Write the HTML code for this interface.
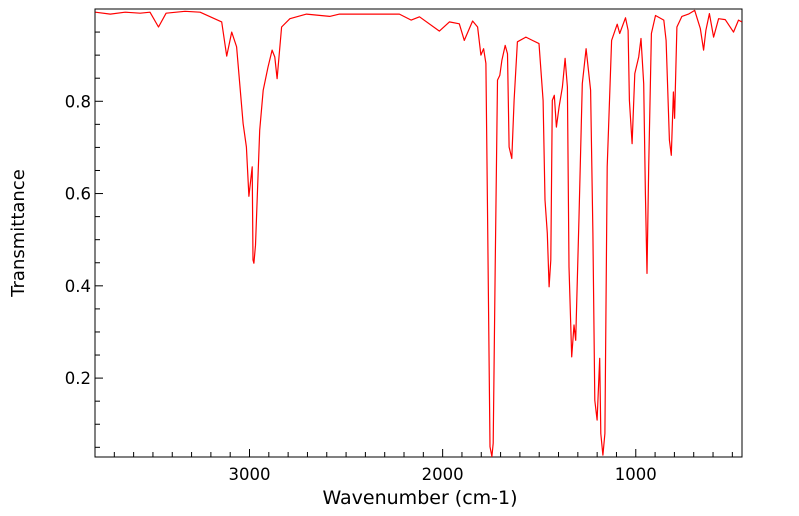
<!DOCTYPE html>
<html><head><meta charset="utf-8"><style>
body{margin:0;background:#fff;width:799px;height:516px;overflow:hidden}
svg{display:block;font-family:"DejaVu Sans","Liberation Sans",sans-serif}
</style></head><body>
<svg id="chart" width="799" height="516" xmlns="http://www.w3.org/2000/svg"></svg>
<script>
const wavenumbers=[3798,3721,3644,3566,3515,3471,3432,3334,3256,3144,3118,3092,3067,3033,3016,3003,2986,2982,2977,2969,2947,2929,2904,2883,2869,2857,2834,2791,2705,2585,2534,2224,2163,2120,2017,1965,1914,1888,1845,1819,1802,1788,1776,1768,1755,1745,1738,1728,1716,1704,1693,1676,1664,1656,1642,1630,1613,1569,1535,1501,1480,1470,1458,1449,1440,1432,1422,1411,1397,1380,1366,1354,1346,1332,1320,1311,1294,1277,1257,1234,1222,1212,1200,1187,1181,1170,1160,1148,1125,1096,1083,1053,1040,1033,1019,1005,985,973,959,950,942,933,919,898,855,843,826,816,805,799,787,761,727,695,666,649,637,619,597,571,537,494,468,451];
const transmittance=[0.993,0.989,0.993,0.991,0.993,0.961,0.991,0.995,0.993,0.972,0.898,0.950,0.918,0.752,0.701,0.594,0.658,0.456,0.449,0.488,0.737,0.824,0.874,0.911,0.896,0.849,0.961,0.979,0.989,0.984,0.989,0.989,0.976,0.983,0.952,0.972,0.968,0.932,0.974,0.961,0.900,0.914,0.882,0.586,0.051,0.030,0.059,0.441,0.846,0.856,0.889,0.921,0.903,0.701,0.676,0.802,0.929,0.939,0.932,0.925,0.802,0.586,0.514,0.398,0.456,0.802,0.813,0.744,0.788,0.831,0.893,0.831,0.441,0.246,0.315,0.282,0.549,0.838,0.914,0.824,0.514,0.152,0.109,0.243,0.080,0.033,0.080,0.658,0.932,0.967,0.947,0.981,0.954,0.802,0.708,0.860,0.896,0.936,0.838,0.600,0.427,0.658,0.947,0.986,0.976,0.932,0.716,0.683,0.820,0.763,0.961,0.984,0.989,0.997,0.958,0.911,0.954,0.990,0.939,0.979,0.977,0.950,0.976,0.972];
const xTicks=[3000,2000,1000];
const yTicks=[0.2,0.4,0.6,0.8];
const xDomain=[3800,450], yDomain=[0.029,1.0];
const L=95,R=742,T=9,B=457;
const sx=v=>L+(xDomain[0]-v)/(xDomain[0]-xDomain[1])*(R-L);
const sy=v=>B-(v-yDomain[0])/(yDomain[1]-yDomain[0])*(B-T);
const svg=document.getElementById('chart');
const NS='http://www.w3.org/2000/svg';
function mk(t,a){const e=document.createElementNS(NS,t);for(const k in a)e.setAttribute(k,a[k]);svg.appendChild(e);return e;}
let fr=mk('rect',{x:L,y:T,width:R-L,height:B-T,fill:'none',stroke:'#000','stroke-width':1});


for(let w=3800;w>=450;w-=100){const x=sx(w);const major=w%1000===0;
 const t=mk('line',{x1:x,x2:x,y1:B,y2:B-(major?8:5),stroke:'#000','stroke-width':1});
 
 }
xTicks.forEach(v=>{const t=mk('text',{x:sx(v),y:480,'text-anchor':'middle','font-size':16.5,fill:'#000'});t.textContent=v;
 
 });
for(let i=1;i<=19;i++){const v=i*0.05;if(v<yDomain[0])continue;const y=sy(v);const major=(i%4===0);
 const t=mk('line',{x1:L,x2:L+(major?8:5),y1:y,y2:y,stroke:'#000','stroke-width':1});
 
 }
yTicks.forEach(v=>{const t=mk('text',{x:91,y:sy(v)+6,'text-anchor':'end','font-size':16.5,fill:'#000'});t.textContent=v.toFixed(1);
 
 });
const xt=mk('text',{x:420,y:504,'text-anchor':'middle','font-size':19,fill:'#000'});xt.textContent='Wavenumber (cm-1)';


const yt=mk('text',{x:0,y:0,transform:'translate(24,233) rotate(-90)','text-anchor':'middle','font-size':18,fill:'#000'});yt.textContent='Transmittance';


const d=wavenumbers.map((w,i)=>(i?'L':'M')+sx(w).toFixed(1)+','+sy(transmittance[i]).toFixed(1)).join('');
const p=mk('path',{d:d,fill:'none',stroke:'#ff0000','stroke-width':1.2,'stroke-linejoin':'round'});


</script>
</body></html>
